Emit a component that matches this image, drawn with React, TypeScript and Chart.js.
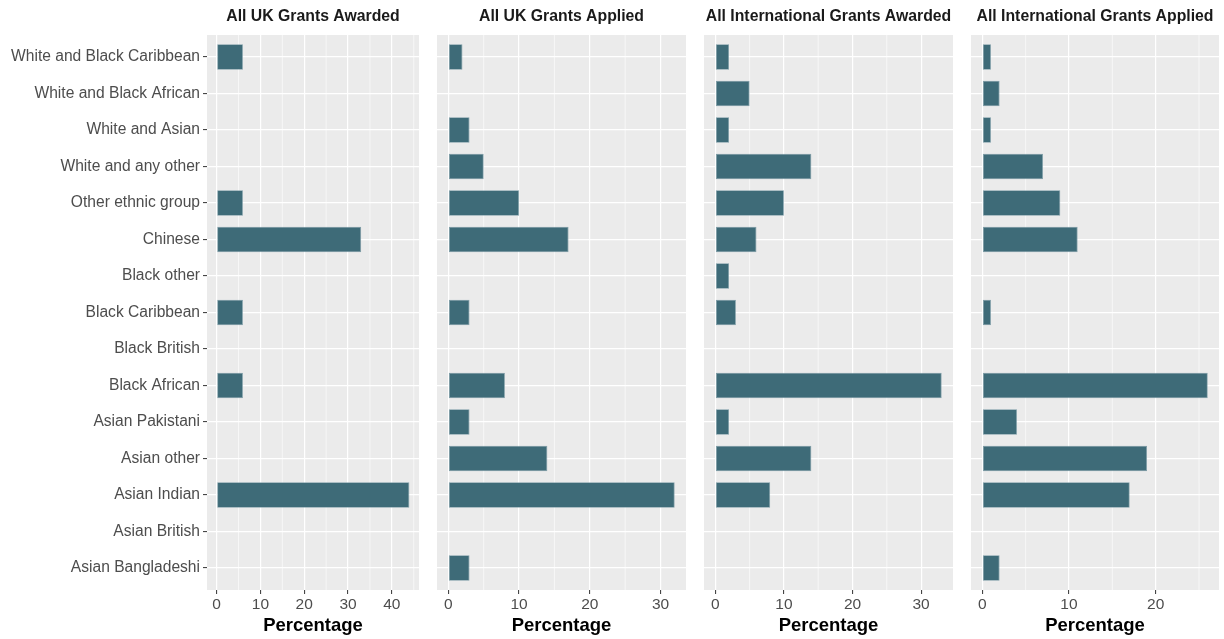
import React, { useEffect, useRef } from "react";
import { Chart, registerables } from "chart.js";

Chart.register(...registerables);

const categories = [
  "White and Black Caribbean",
  "White and Black African",
  "White and Asian",
  "White and any other",
  "Other ethnic group",
  "Chinese",
  "Black other",
  "Black Caribbean",
  "Black British",
  "Black African",
  "Asian Pakistani",
  "Asian other",
  "Asian Indian",
  "Asian British",
  "Asian Bangladeshi",
];

const panelTitles = [
  "All UK Grants Awarded",
  "All UK Grants Applied",
  "All International Grants Awarded",
  "All International Grants Applied",
];

const ukAwarded = [6, null, null, null, 6, 33, null, 6, null, 6, null, null, 44, null, null];
const ukApplied = [2, null, 3, 5, 10, 17, null, 3, null, 8, 3, 14, 32, null, 3];
const intlAwarded = [2, 5, 2, 14, 10, 6, 2, 3, null, 33, 2, 14, 8, null, null];
const intlApplied = [1, 2, 1, 7, 9, 11, null, 1, null, 26, 4, 19, 17, null, 2];

const majorTicks = [
  [0, 10, 20, 30, 40],
  [0, 10, 20, 30],
  [0, 10, 20, 30],
  [0, 10, 20],
];
const minorTicks = [
  [5, 15, 25, 35, 45],
  [5, 15, 25],
  [5, 15, 25],
  [5, 15, 25],
];

const seriesList = [ukAwarded, ukApplied, intlAwarded, intlApplied];

const FONT = "'Liberation Sans', Arial, Helvetica, sans-serif";
const BAR_FILL = "#3E6B78";
const BAR_EDGE = "#7C9CA6";
const PANEL_BG = "#EBEBEB";

// layout of each panel canvas
const panels = [
  { left: 0, width: 420, yAxisWidth: 207, padRight: 1 },
  { left: 437, width: 250, yAxisWidth: 0, padRight: 1 },
  { left: 704, width: 250, yAxisWidth: 0, padRight: 1 },
  { left: 971, width: 249, yAxisWidth: 0, padRight: 1 },
];

const H = 639;
const PANEL_TOP = 35;
const PANEL_BOTTOM = 590;

const panelPlugin = {
  id: "panelDecor",
  beforeDraw(chart: any, _args: any, opts: any) {
    const { ctx, chartArea } = chart;
    const { left, right, top, bottom } = chartArea;
    ctx.save();
    ctx.fillStyle = PANEL_BG;
    ctx.fillRect(left, top, right - left, bottom - top);
    const xs = chart.scales.x;
    ctx.strokeStyle = "#FFFFFF";
    ctx.lineWidth = 0.6;
    (opts.minor || []).forEach((v: number) => {
      const px = xs.getPixelForValue(v);
      if (px > left && px < right) {
        ctx.beginPath();
        ctx.moveTo(px, top);
        ctx.lineTo(px, bottom);
        ctx.stroke();
      }
    });
    ctx.restore();
  },
  afterDraw(chart: any, _args: any, opts: any) {
    const { ctx, chartArea } = chart;
    ctx.save();
    ctx.fillStyle = "#1A1A1A";
    ctx.font = `bold 15.8px ${FONT}`;
    ctx.textAlign = "center";
    ctx.textBaseline = "middle";
    ctx.fillText(opts.title || "", (chartArea.left + chartArea.right) / 2, 17);
    ctx.restore();
  },
};

function Panel({ idx }: { idx: number }) {
  const ref = useRef<HTMLCanvasElement | null>(null);
  useEffect(() => {
    if (!ref.current) return;
    const p = panels[idx];
    const values = seriesList[idx];
    const maxVal = Math.max(...values.map((v) => (v == null ? 0 : v)));
    const pad = maxVal * 0.05;
    const data = categories.map((_, i) => ({ x: values[i], y: i }));
    const showLabels = p.yAxisWidth > 0;
    const chart = new Chart(ref.current, {
      type: "bar",
      data: {
        datasets: [
          {
            data: data as any,
            backgroundColor: BAR_FILL,
            borderColor: BAR_EDGE,
            borderWidth: 0.8,
            borderSkipped: false,
            barPercentage: 0.7,
            categoryPercentage: 1,
          },
        ],
      },
      options: {
        indexAxis: "y",
        animation: false,
        responsive: false,
        maintainAspectRatio: false,
        layout: {
          padding: { top: PANEL_TOP, right: p.padRight, left: 0, bottom: 0 },
        },
        plugins: {
          legend: { display: false },
          tooltip: { enabled: false },
          title: { display: false },
          panelDecor: { title: panelTitles[idx], minor: minorTicks[idx] },
        } as any,
        scales: {
          x: {
            type: "linear",
            position: "bottom",
            min: -pad,
            max: maxVal + pad,
            afterBuildTicks: (scale: any) => {
              scale.ticks = majorTicks[idx].map((v) => ({ value: v }));
            },
            afterFit: (scale: any) => {
              scale.height = H - PANEL_BOTTOM;
            },
            border: { display: false },
            grid: {
              color: "#FFFFFF",
              lineWidth: 1.2,
              drawTicks: true,
              tickLength: 4,
              tickColor: "#333333",
              tickWidth: 1,
            },
            ticks: {
              color: "#4D4D4D",
              font: { family: FONT, size: 15.5 },
              padding: 1,
              maxRotation: 0,
              autoSkip: false,
              callback: (v: any) => String(v),
            },
            title: {
              display: true,
              text: "Percentage",
              color: "#000000",
              font: { family: FONT, size: 18.5, weight: "bold" },
              padding: { top: 0, bottom: 2 },
            },
          },
          y: {
            type: "linear",
            reverse: true,
            offset: false,
            min: -0.6,
            max: categories.length - 1 + 0.6,
            afterBuildTicks: (scale: any) => {
              scale.ticks = categories.map((_, i) => ({ value: i }));
            },
            afterFit: (scale: any) => {
              scale.width = p.yAxisWidth;
            },
            border: { display: false },
            grid: {
              offset: false,
              color: "#FFFFFF",
              lineWidth: 1.2,
              drawTicks: showLabels,
              tickLength: 4,
              tickColor: "#333333",
              tickWidth: 1,
            },
            ticks: {
              display: showLabels,
              color: "#4D4D4D",
              font: { family: FONT, size: 15.6 },
              padding: 3,
              autoSkip: false,
              callback: (v: any) => categories[v as number] ?? "",
            },
          },
        },
      },
      plugins: [panelPlugin],
    });
    return () => chart.destroy();
  }, [idx]);
  const p = panels[idx];
  return (
    <canvas
      ref={ref}
      width={p.width}
      height={H}
      style={{ position: "absolute", left: p.left, top: 0, width: p.width, height: H }}
    />
  );
}

export default function App() {
  useEffect(() => {
    document.body.style.margin = "0";
  }, []);
  return (
    <div style={{ position: "relative", width: 1224, height: H, background: "#FFFFFF", overflow: "hidden" }}>
      {panels.map((_, i) => (
        <Panel key={i} idx={i} />
      ))}
    </div>
  );
}
